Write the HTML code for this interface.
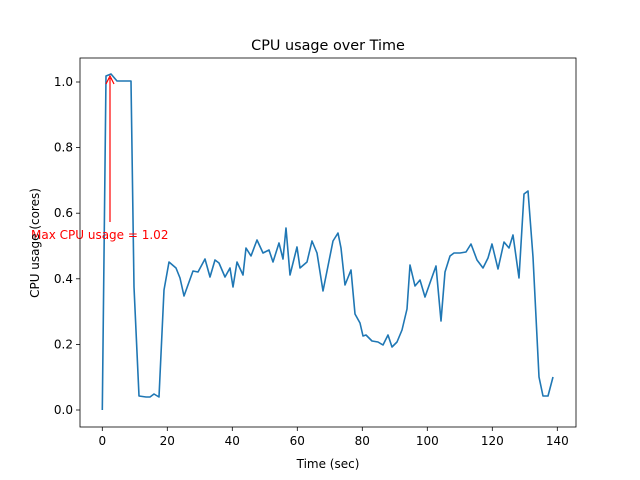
<!DOCTYPE html>
<html><head><style>body{margin:0;background:#fff}svg{display:block;font-family:"DejaVu Sans","Liberation Sans",sans-serif}</style></head><body>
<svg width="640" height="480" xmlns="http://www.w3.org/2000/svg">
<rect width="640" height="480" fill="#fff"/>
<text x="328" y="50" font-size="14.4" text-anchor="middle">CPU usage over Time</text>
<polyline fill="none" stroke="#1f77b4" stroke-width="1.6" stroke-linejoin="round" points="102.3,410 106,76 111,74 117,81 120,81 124,81 131,81 134,287 139,396 146,397 150,397 154,394 159,397 164,290 169,262 176,268 180,278 184,296 193,271 198,272 205,259 210,277 215,260 219,263 225,277 230,268 233,287 237,262 243,275 246,248 251,256 257,240 263,253 269,250 273,262 279,243 283,259 286,228 290,275 297,247 300,268 307,262 312,241 317,253 323,291 328,266 333,241 338,233 341,248 345,285 351,270 355,314 360,323 363,336 366,335 372,341 378,342 383,345 388,335 392,347 397,342 402,330 407,309 410,265 415,286 420,280 425,297 431,280 436,266 441,321 445,272 450,256 454,253 460,253 466,252 471,244 477,260 483,268 488,258 492,244 498,269 504,242 509,248 513,235 519,278 524,194 528,191 533,257 539,377 543,396 548,396 553,377"/>
<line x1="110" y1="222" x2="110" y2="78" stroke="red" stroke-width="1.2"/>
<polyline points="106,84 110,76 114,84" fill="none" stroke="red" stroke-width="1.2"/>
<text x="31" y="239" font-size="12" fill="red">Max CPU usage = 1.02</text>
<rect x="80" y="58" width="496" height="369" fill="none" stroke="#000" stroke-width="0.8"/>
<g stroke="#000" stroke-width="0.8">
<line x1="102.3" y1="427" x2="102.3" y2="431"/><line x1="167.3" y1="427" x2="167.3" y2="431"/><line x1="232.3" y1="427" x2="232.3" y2="431"/><line x1="297.3" y1="427" x2="297.3" y2="431"/><line x1="362.3" y1="427" x2="362.3" y2="431"/><line x1="427.3" y1="427" x2="427.3" y2="431"/><line x1="492.3" y1="427" x2="492.3" y2="431"/><line x1="557.3" y1="427" x2="557.3" y2="431"/>
<line x1="76" y1="410" x2="80" y2="410"/><line x1="76" y1="344.4" x2="80" y2="344.4"/><line x1="76" y1="278.8" x2="80" y2="278.8"/><line x1="76" y1="213.2" x2="80" y2="213.2"/><line x1="76" y1="147.6" x2="80" y2="147.6"/><line x1="76" y1="82" x2="80" y2="82"/>
</g>
<g font-size="12" text-anchor="middle">
<text x="102.3" y="445">0</text><text x="167.3" y="445">20</text><text x="232.3" y="445">40</text><text x="297.3" y="445">60</text><text x="362.3" y="445">80</text><text x="427.3" y="445">100</text><text x="492.3" y="445">120</text><text x="557.3" y="445">140</text>
</g>
<g font-size="12" text-anchor="end">
<text x="73" y="414">0.0</text><text x="73" y="348.4">0.2</text><text x="73" y="282.8">0.4</text><text x="73" y="217.2">0.6</text><text x="73" y="151.6">0.8</text><text x="73" y="86">1.0</text>
</g>
<text x="328" y="468" font-size="12" text-anchor="middle">Time (sec)</text>
<text transform="translate(39,243) rotate(-90)" font-size="12" text-anchor="middle">CPU usage (cores)</text>
</svg>
</body></html>
